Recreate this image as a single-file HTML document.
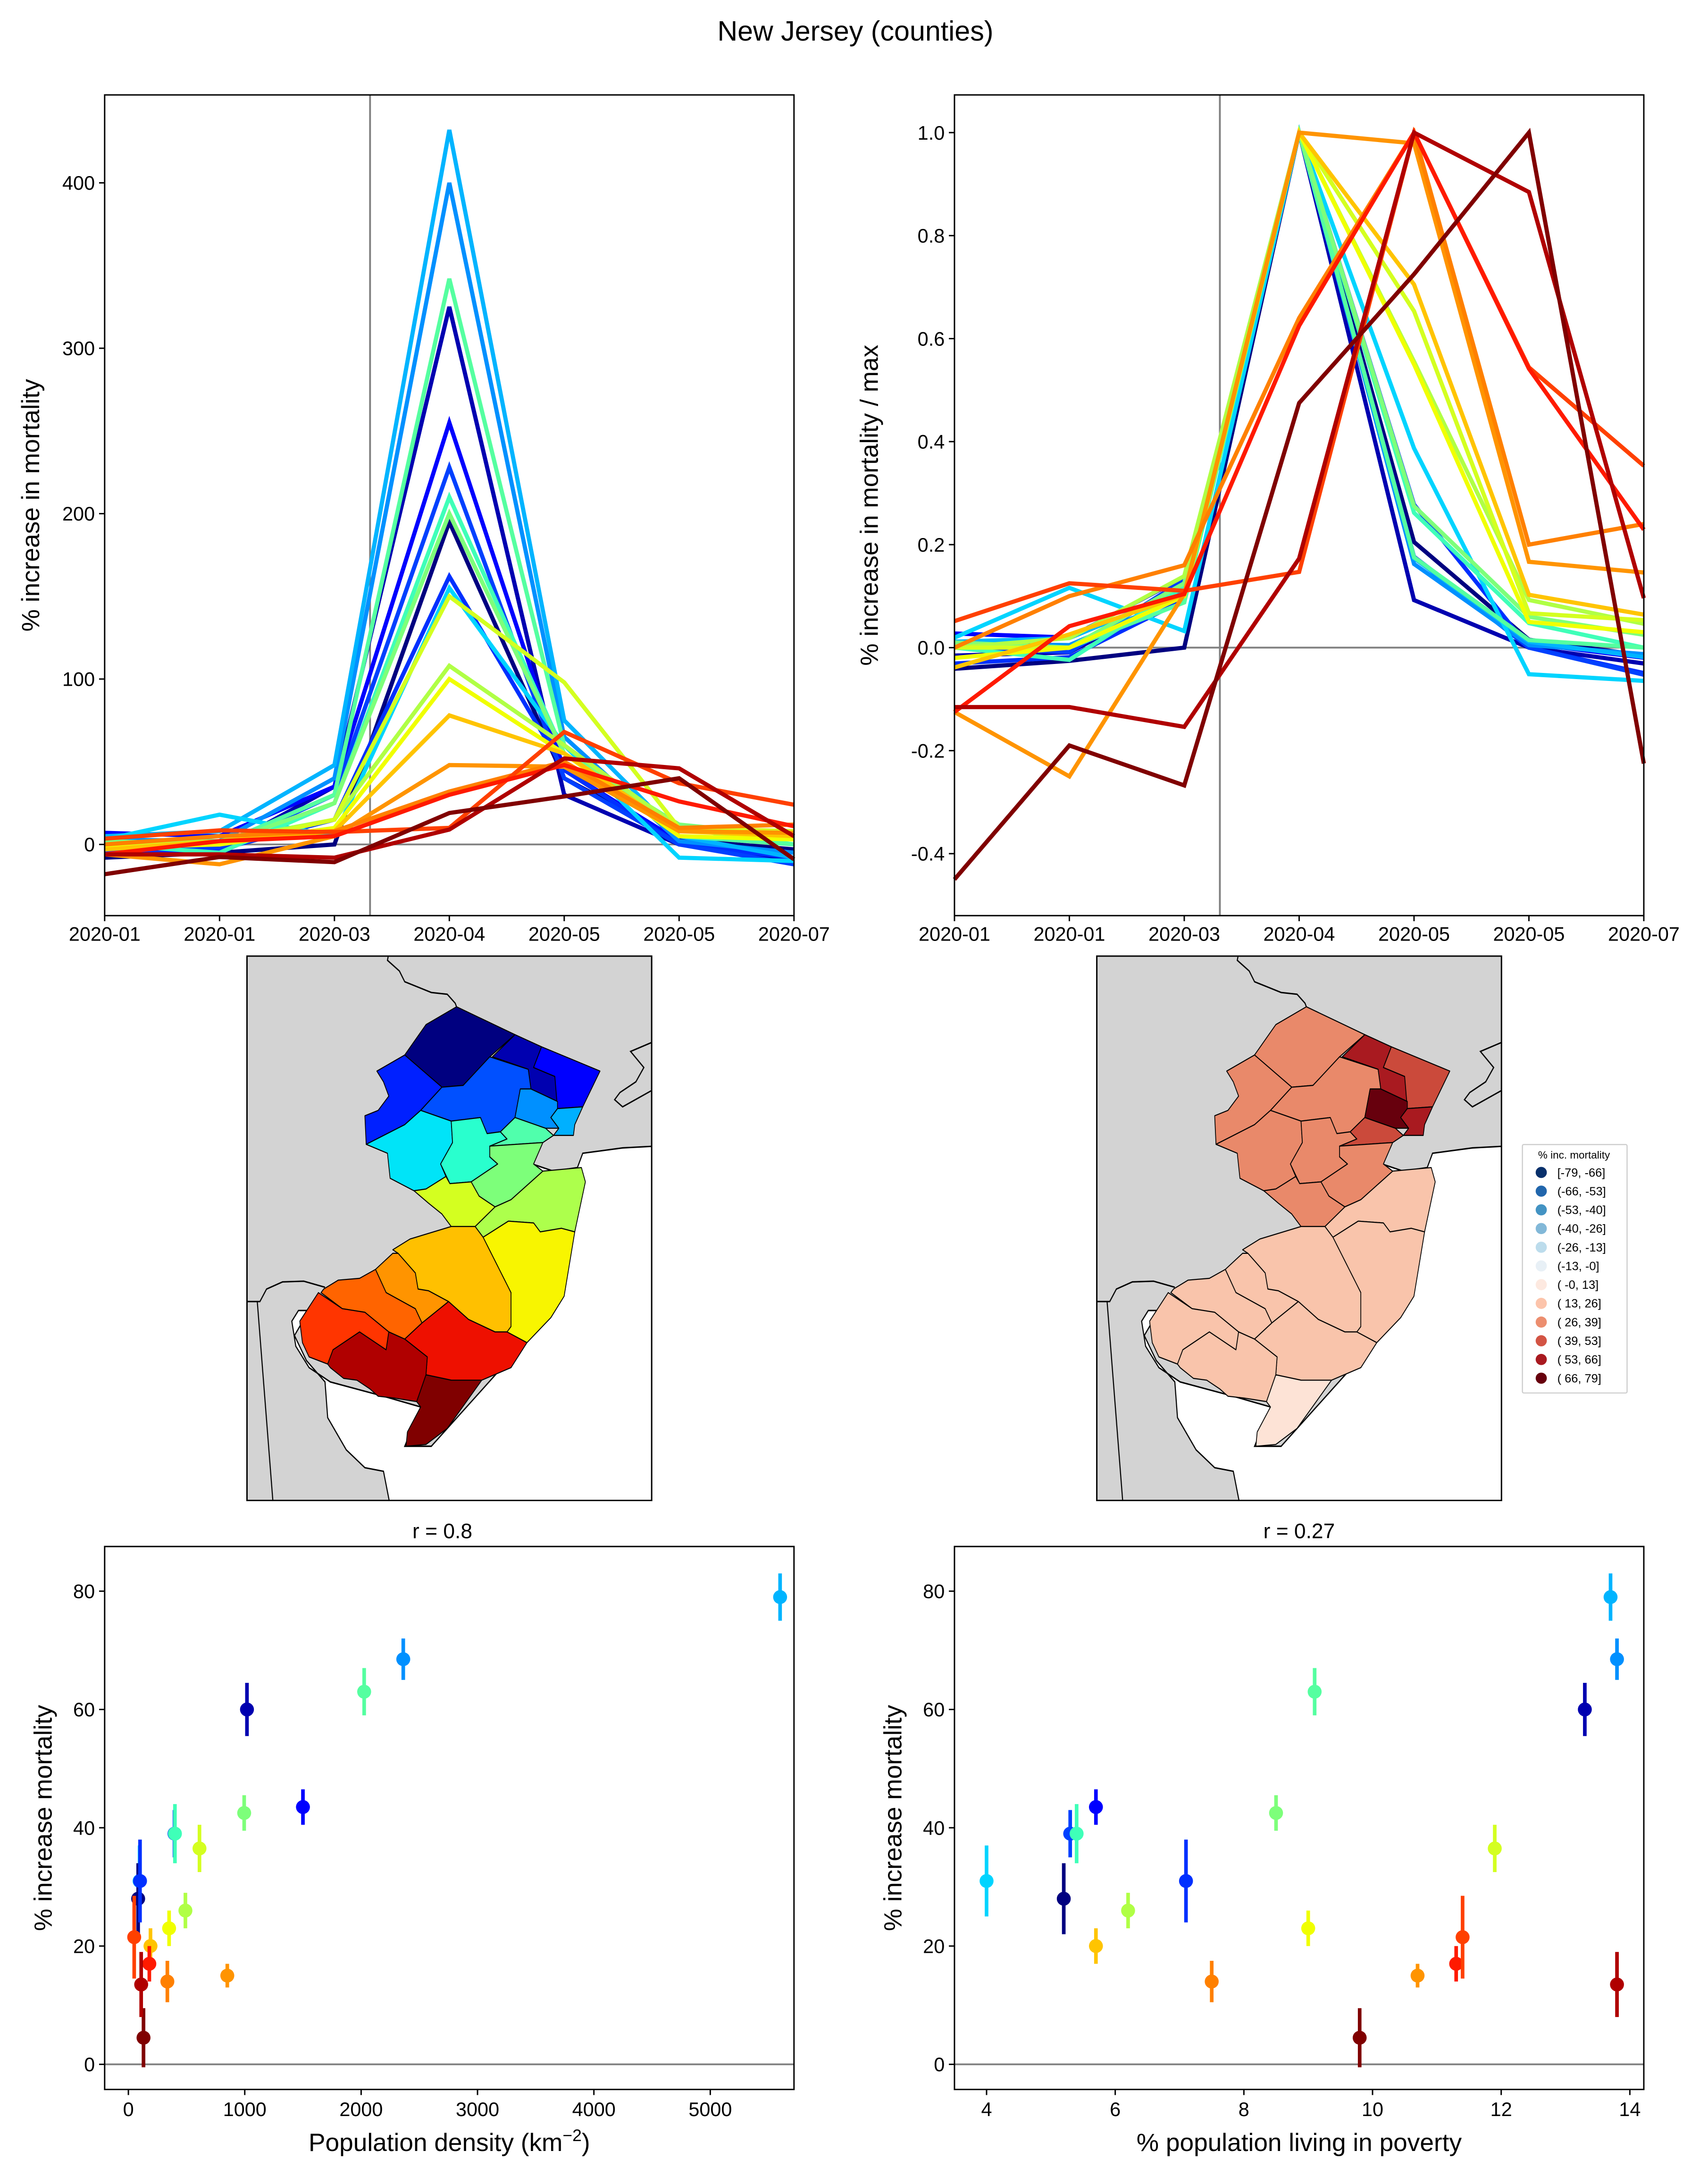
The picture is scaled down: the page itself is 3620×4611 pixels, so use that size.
<!DOCTYPE html>
<html><head><meta charset="utf-8">
<style>
html,body{margin:0;padding:0;background:#fff;}
svg{display:block;font-family:"Liberation Sans","DejaVu Sans",sans-serif;}
</style></head>
<body>
<svg id="fig" xmlns="http://www.w3.org/2000/svg" width="3620" height="4611" viewBox="0 0 1224 1559" preserveAspectRatio="none">
<rect x="0" y="0" width="1224" height="1559" fill="#fff"/>
<text x="613" y="29" text-anchor="middle" font-size="20">New Jersey (counties)</text>
<g id="tl"></g>
<g id="tr"></g>
<g id="ml"></g>
<g id="mr"></g>
<g id="leg"></g>
<g id="bl"></g>
<g id="br"></g>
</svg>
<script>
const NS="http://www.w3.org/2000/svg";
// ---------- data ----------
const timeLabels=["2020-01","2020-01","2020-03","2020-04","2020-05","2020-05","2020-07"];
const countyNames=["Sussex","Passaic","Bergen","Warren","Morris","Essex","Hudson","Hunterdon","Somerset","Union","Middlesex","Monmouth","Mercer","Ocean","Burlington","Camden","Gloucester","Salem","Atlantic","Cumberland","Cape May"];
const lineColors=["#000080","#0000b0","#0000ff","#0030ff","#0040ff","#0090ff","#00b4ff","#00d4ff","#3fffb8","#55ffa0","#7dff7a","#b0ff45","#d4ff20","#f0ff00","#ffc400","#ff9400","#ff8000","#ff4000","#ff1a00","#b00000","#800000"];
const s0=[-8,-5,0,195,40,3,-3];
const s1=[-5,-3,35,325,30,0,-10];
const s2=[7,5,35,255,45,2,-5];
const s3=[-5,-3,15,162,45,0,-8];
const s4=[0,-2,30,228,40,0,-12];
const s5=[3,2,40,400,65,2,-5];
const s6=[5,8,48,432,75,5,-8];
const s7=[3,18,5,155,60,-8,-10];
const s8=[0,-5,25,210,55,10,0];
const s9=[2,0,30,342,60,5,0];
const s10=[2,0,25,200,55,12,5];
const s11=[0,2,15,108,60,10,5];
const s12=[0,0,15,150,98,10,8];
const s13=[-2,0,10,100,55,5,3];
const s14=[-3,2,8,78,55,8,5];
const s15=[-6,-12,5,48,47,8,7];
const s16=[0,5,8,32,50,10,12];
const s17=[3.5,8.5,7.5,10,68,37,24];
const s18=[-6,2,5,30,48,26,11];
const s19=[-6,-6,-8,9,52,46,5];
const s20=[-18,-7.6,-10.7,19,29,40,-9];
const seriesList=[s0,s1,s2,s3,s4,s5,s6,s7,s8,s9,s10,s11,s12,s13,s14,s15,s16,s17,s18,s19,s20];
const tlTicks=[0,100,200,300,400];
const trTicks=[-0.4,-0.2,0.0,0.2,0.4,0.6,0.8,1.0];
// scatter
const scColors=["#00d4ff","#000080","#0040ff","#3fffb8","#0000ff","#ffc400","#b0ff45","#0030ff","#ff8000","#7dff7a","#f0ff00","#55ffa0","#800000","#ff9400","#ff1a00","#ff4000","#d4ff20","#0000b0","#00b4ff","#0090ff","#b00000"];
const scValue=[31,28,39,39,43.5,20,26,31,14,42.5,23,63,4.5,15,17,21.5,36.5,60,79,68.5,13.5];
const scErr=[6,6,4,5,3,3,3,7,3.5,3,3,4,5,2,3,7,4,4.5,4,3.5,5.5];
const scPoverty=[4.0,5.2,5.3,5.4,5.7,5.7,6.2,7.1,7.5,8.5,9.0,9.1,9.8,10.7,11.3,11.4,11.9,13.3,13.7,13.8,13.8];
const scDensity=[96,84,396,400,1500,190,490,100,335,995,350,2026,130,850,180,50,611,1019,5600,2362,110];
const densTicks=[0,1000,2000,3000,4000,5000];
const povTicks=[4,6,8,10,12,14];
const scTicks=[0,20,40,60,80];
const legendLabels=["[-79, -66]","(-66, -53]","(-53, -40]","(-40, -26]","(-26, -13]","(-13,  -0]","( -0,  13]","( 13,  26]","( 26,  39]","( 39,  53]","( 53,  66]","( 66,  79]"];
const legendColors=["#08306b","#2166ac","#4393c3","#82b8d8","#bcdcec","#e8f0f6","#fde9e0","#fcc4ab","#ec8e6f","#d35444","#a91a20","#67000d"];
const mapLeftColors=["#000080","#0000b0","#0000ff","#0020ff","#0050ff","#0090ff","#00b0ff","#00e4f8","#29ffce","#50ffac","#7dff7a","#adff4c","#d4ff20","#f8f500","#ffc000","#ff9400","#ff6400","#ff3500","#ee1000","#b00000","#800000"];
const mapRightColors=["#e9896a","#a91a20","#cb4a3b","#e9896a","#e9896a","#67000d","#a91a20","#e9896a","#e9896a","#cb4a3b","#e9896a","#f9c4ab","#e9896a","#f9c4ab","#f9c4ab","#f9c4ab","#f9c4ab","#f9c4ab","#f9c4ab","#f9c4ab","#fde3d6"];
const countyShapes=[
"600,285 680,200 795,150 1015,228 920,290 820,370 740,375",
"1015,228 1115,262 1085,320 1165,345 1175,415 1075,380 1065,325 930,290",
"1115,262 1335,330 1270,430 1175,435 1165,345 1085,320",
"495,330 600,285 740,375 660,440 600,480 455,535 450,455 500,440 540,400 520,360",
"740,375 820,370 920,290 1065,325 1075,380 1035,380 1015,460 960,500 910,505 885,460 775,470 660,440",
"1035,380 1075,380 1175,415 1175,435 1150,460 1180,490 1130,490 1015,460",
"1175,435 1270,430 1240,480 1235,510 1160,510 1180,490 1150,460",
"455,535 600,480 660,440 775,470 780,530 735,590 755,625 680,660 635,665 545,630 535,560",
"775,470 885,460 910,505 960,500 985,520 920,570 950,590 850,640 770,645 735,590 780,530",
"960,500 1015,460 1130,490 1160,510 1120,530 920,540 985,520",
"920,540 1120,530 1085,590 1120,610 1000,690 940,710 880,680 850,640 950,590 920,570",
"1120,610 1265,600 1280,640 1240,780 1190,770 1110,780 1085,755 990,750 895,795 865,765 940,710 1000,690",
"635,665 680,660 755,625 770,645 850,640 880,680 940,710 865,765 775,765 740,730 690,700",
"895,795 990,750 1085,755 1110,780 1190,770 1240,780 1200,960 1150,1020 1060,1090 985,1060 1000,950",
"775,765 865,765 895,795 1000,950 1000,1045 985,1060 940,1060 840,1025 765,975 690,945 650,940 640,895 575,840 555,830 620,800",
"490,885 555,840 575,840 640,895 650,940 690,945 765,975 665,1035 640,995 530,950",
"295,940 350,915 430,910 490,885 530,950 640,995 665,1035 600,1080 540,1060 450,1005 365,995 285,950",
"205,1030 275,950 365,995 450,1005 540,1060 530,1110 430,1060 330,1110 310,1150 240,1130 215,1090",
"600,1080 665,1035 765,975 840,1025 940,1060 985,1060 1060,1090 1000,1160 890,1195 775,1195 680,1180 685,1130",
"310,1150 330,1110 430,1060 530,1110 540,1060 600,1080 685,1130 680,1180 645,1255 560,1245 500,1240 470,1220 420,1195 370,1190 320,1160",
"680,1180 775,1195 890,1195 760,1330 680,1375 605,1380 610,1340 660,1270 645,1255"];

function el(tag,attrs,parent){const e=document.createElementNS(NS,tag);for(const k in attrs)e.setAttribute(k,attrs[k]);parent.appendChild(e);return e;}
function txt(s,attrs,parent){const e=el("text",attrs,parent);e.textContent=s;return e;}

// ---------- time series ----------
function timeChart(gid,x0,x1,y0,y1,yScale,ticks,fmt,series,vx,ylab,ylabX){
  const g=document.getElementById(gid);
  const xs=i=>x0+i*(x1-x0)/6;
  const h=el("line",{x1:x0,x2:x1,y1:yScale(0),y2:yScale(0),stroke:"#808080","stroke-width":1.3},g);
  
  
  const v=el("line",{x1:xs(vx),x2:xs(vx),y1:y0,y2:y1,stroke:"#808080","stroke-width":1.3},g);
  
  
  series.forEach((s,k)=>{
    const p=el("polyline",{points:s.map((val,i)=>xs(i)+","+yScale(val)).join(" "),fill:"none",stroke:lineColors[k],"stroke-width":3,"stroke-linejoin":"miter"},g);
    
    
  });
  const fr=el("rect",{x:x0,y:y0,width:x1-x0,height:y1-y0,fill:"none",stroke:"#000","stroke-width":1},g);
  
  
  ticks.forEach(t=>{
    const y=yScale(t);
    el("line",{x1:x0-4,x2:x0,y1:y,y2:y,stroke:"#000"},g);
    const l=txt(fmt(t),{x:x0-7,y:y+5,"text-anchor":"end","font-size":14},g);
    
    
  });
  timeLabels.forEach((t,i)=>{
    el("line",{x1:xs(i),x2:xs(i),y1:y1,y2:y1+4,stroke:"#000"},g);
    const l=txt(t,{x:xs(i),y:y1+18,"text-anchor":"middle","font-size":14},g);
    
    
  });
  const yl=txt(ylab,{x:ylabX,y:(y0+y1)/2,"text-anchor":"middle","font-size":18,transform:`rotate(-90 ${ylabX} ${(y0+y1)/2})`},g);
  
  
}
timeChart("tl",75,569,68,656,v=>605-v*1.185,tlTicks,t=>String(t),seriesList,2.31,"% increase in mortality",28);
const normList=seriesList.map(s=>{const m=Math.max(...s);return s.map(v=>v/m);});
timeChart("tr",684,1178,68,656,v=>464-v*369,trTicks,t=>t.toFixed(1),normList,2.31,"% increase in mortality / max",629);

// ---------- maps ----------
function drawMap(gid,bx,colors){
  const g=document.getElementById(gid);
  const clip="clip"+gid;
  const cp=el("clipPath",{id:clip},g);
  el("rect",{x:bx,y:685,width:290,height:390},cp);
  const bg=el("rect",{x:bx,y:685,width:290,height:390,fill:"#d3d3d3"},g);
  
  
  const inner=el("g",{"clip-path":`url(#${clip})`},g);
  const t=el("g",{transform:`translate(${bx-1.2},682.9) scale(0.1904,0.256)`},inner);
  const ocean=el("polygon",{points:"1545,540 1420,545 1320,555 1270,560 1250,600 1160,610 1080,590 1000,800 1050,1090 700,1380 600,1380 660,1270 520,1240 320,1200 240,1160 190,1100 175,1030 200,1000 240,1000 185,1070 230,1140 300,1200 310,1300 380,1390 450,1440 520,1450 545,1545 1545,1545",fill:"#fff",stroke:"#000","stroke-width":4},t);
  
  
  el("polyline",{points:"540,0 535,20 580,50 600,80 650,95 700,110 760,115 790,140 795,150",fill:"none",stroke:"#000","stroke-width":4},t);
  el("polyline",{points:"0,975 55,975 80,940 140,920 220,918 300,935",fill:"none",stroke:"#000","stroke-width":4},t);
  el("polyline",{points:"45,975 105,1545",fill:"none",stroke:"#000","stroke-width":4},t);
  el("polyline",{points:"1545,245 1450,275 1500,320 1470,360 1410,390 1390,410 1420,430 1540,380",fill:"none",stroke:"#000","stroke-width":4},t);
  countyShapes.forEach((pts,k)=>{
    const p=el("polygon",{points:pts,fill:colors[k],stroke:"#000","stroke-width":3,"stroke-linejoin":"round"},t);
    
    
  });
  el("rect",{x:bx,y:685,width:290,height:390,fill:"none",stroke:"#000","stroke-width":1},g);
}
drawMap("ml",177,mapLeftColors);
drawMap("mr",786,mapRightColors);

// legend
(function(){
  const g=document.getElementById("leg");
  const b=el("rect",{x:1091,y:820,width:75,height:178,fill:"#fff",stroke:"#ccc","stroke-width":0.8,rx:1},g);
  
  
  txt("% inc. mortality",{x:1128,y:830,"text-anchor":"middle","font-size":7.6},g);
  legendLabels.forEach((l,i)=>{
    const y=840+i*13.4;
    const c=el("circle",{cx:1104.5,cy:y,r:4,fill:legendColors[i]},g);
    
    
    const t=txt(l,{x:1116,y:y+3,"font-size":8.6,"xml:space":"preserve"},g);
    
    
  });
})();

// ---------- scatter ----------
function scatter(gid,x0,x1,xScale,xvals,xticks,xlab,title,titleX){
  const g=document.getElementById(gid);
  const y0=1108,y1=1497,ys=v=>1479-v*4.2375;
  const h=el("line",{x1:x0,x2:x1,y1:ys(0),y2:ys(0),stroke:"#808080","stroke-width":1.3},g);
  
  
  xvals.forEach((xv,k)=>{
    const cx=xScale(xv),cy=ys(scValue[k]);
    const e=el("line",{x1:cx,x2:cx,y1:ys(scValue[k]-scErr[k]),y2:ys(scValue[k]+scErr[k]),stroke:scColors[k],"stroke-width":2.6},g);
    
    
    const c=el("circle",{cx:cx,cy:cy,r:5,fill:scColors[k]},g);
    
    
  });
  const fr=el("rect",{x:x0,y:y0,width:x1-x0,height:y1-y0,fill:"none",stroke:"#000","stroke-width":1},g);
  
  
  scTicks.forEach(t=>{
    el("line",{x1:x0-4,x2:x0,y1:ys(t),y2:ys(t),stroke:"#000"},g);
    const l=txt(String(t),{x:x0-7,y:ys(t)+5,"text-anchor":"end","font-size":14},g);
    
    
  });
  xticks.forEach(t=>{
    el("line",{x1:xScale(t),x2:xScale(t),y1:y1,y2:y1+4,stroke:"#000"},g);
    const l=txt(String(t),{x:xScale(t),y:y1+19,"text-anchor":"middle","font-size":14},g);
    
    
  });
  const tt=txt(title,{x:titleX,y:1102,"text-anchor":"middle","font-size":15},g);
  
  
  const yx=x0-38;
  const yl=txt("% increase mortality",{x:yx,y:(y0+y1)/2,"text-anchor":"middle","font-size":18,transform:`rotate(-90 ${yx} ${(y0+y1)/2})`},g);
  
  
  const xl=el("text",{x:(x0+x1)/2,y:1541,"text-anchor":"middle","font-size":18},g);
  xl.innerHTML=xlab;
  
  
}
scatter("bl",75,569,v=>92+v*0.0834,scDensity,densTicks,'Population density (km<tspan font-size="12" dy="-7">−2</tspan><tspan dy="7">)</tspan>',"r = 0.8",317);
scatter("br",684,1178,v=>707+(v-4)*46.1,scPoverty,povTicks,"% population living in poverty","r = 0.27",931);
</script>
</body></html>
